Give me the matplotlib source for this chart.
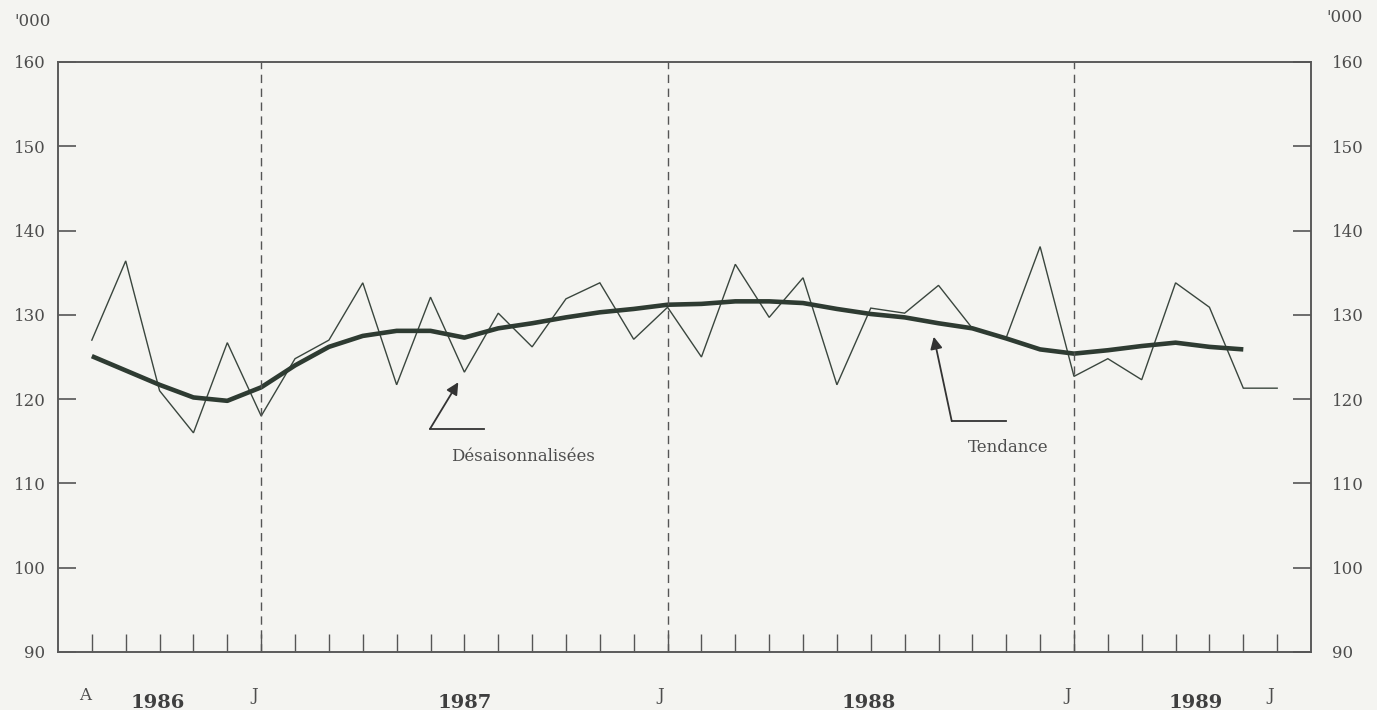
import numpy as np
import matplotlib
matplotlib.use("Agg")
from matplotlib import pyplot as plt
from matplotlib import transforms

# monthly series, Aug 1986 .. Jul 1989 ('000)
desaisonnalisees = [127.0, 136.4, 121.0, 116.0, 126.7, 118.0, 124.8, 127.0, 133.8,
                    121.7, 132.1, 123.2, 130.2, 126.2, 131.9, 133.8, 127.1, 130.9,
                    125.0, 136.0, 129.7, 134.4, 121.7, 130.8, 130.2, 133.5, 128.4,
                    127.3, 138.1, 122.7, 124.8, 122.3, 133.8, 130.9, 121.3, 121.3]
tendance = [125.1, 123.4, 121.7, 120.2, 119.8, 121.4, 124.0, 126.2, 127.5, 128.1,
            128.1, 127.3, 128.4, 129.0, 129.7, 130.3, 130.7, 131.2, 131.3, 131.6,
            131.6, 131.4, 130.7, 130.1, 129.7, 129.0, 128.4, 127.2, 125.9, 125.4,
            125.8, 126.3, 126.7, 126.2, 125.9]
month_letters = ["A", "J", "J", "J", "J"]
month_letter_idx = [0, 5, 17, 29, 35]
years = ["1986", "1987", "1988", "1989"]
y_ticks = [90, 100, 110, 120, 130, 140, 150, 160]

plt.rcParams["font.family"] = ["DejaVu Serif"]
txt_col = "#4d4d4d"
line_col = "#3a463e"
bg = "#f4f4f1"

fig = plt.figure(figsize=(13.77, 7.10), dpi=100, facecolor=bg)
ax = fig.add_axes([0.0421, 0.0817, 0.9100, 0.8310], facecolor=bg)

x = np.arange(len(desaisonnalisees))
ax.plot(x, desaisonnalisees, color=line_col, lw=1.0, solid_joinstyle="miter")
ax.plot(np.arange(len(tendance)), tendance, color="#2e3b32", lw=3.3,
        solid_joinstyle="round", solid_capstyle="butt")

# january separators
for i in [5, 17, 29]:
    ax.axvline(i, color="#555555", lw=1.0, ls=(0, (6, 4)))

ax.set_xlim(-1, 36)
ax.set_ylim(90, 160)
ax.set_xticks(x)
ax.set_xticklabels([])
ax.set_yticks(y_ticks)
ax.tick_params(axis="x", direction="in", length=13, width=1.0, color="#555555")
ax.tick_params(axis="y", direction="in", length=13, width=1.2, color="#555555",
               pad=9, labelsize=12, labelcolor=txt_col)
for sp in ax.spines.values():
    sp.set_color("#5a5a5a")
    sp.set_linewidth(1.4)

# right-hand scale
ax2 = ax.twinx()
ax2.set_ylim(90, 160)
ax2.set_yticks(y_ticks)
ax2.tick_params(axis="y", direction="in", length=13, width=1.2, color="#555555",
                pad=15, labelsize=12, labelcolor=txt_col)
for sp in ax2.spines.values():
    sp.set_visible(False)

# bottom labels
trans = transforms.blended_transform_factory(ax.transData, fig.transFigure)
for lab, i in zip(month_letters, month_letter_idx):
    ax.text(i - 0.2, 1 - 695 / 710, lab, transform=trans, ha="center", va="center",
            fontsize=12, color=txt_col)
for lab, xp in zip(years, [1.95, 11.0, 22.95, 32.6]):
    ax.text(xp, 1 - 703 / 710, lab, transform=trans, ha="center", va="center",
            fontsize=14, fontweight="bold", color="#3f3f3f")

fig.text(33 / 1377, 1 - 22 / 710, "'000", ha="center", va="center",
         fontsize=12, color=txt_col)
fig.text(1345 / 1377, 1 - 17 / 710, "'000", ha="center", va="center",
         fontsize=12, color=txt_col)

# annotations
arrow = dict(arrowstyle="-|>", color="#333333", lw=1.3, mutation_scale=18,
             shrinkA=0, shrinkB=0)
ax.plot([9.99, 11.59], [116.5, 116.5], color="#333333", lw=1.3)
ax.annotate("", xy=(10.82, 122.0), xytext=(9.99, 116.5), arrowprops=arrow)
ax.text(12.74, 113.2, "Désaisonnalisées", ha="center", va="center",
        fontsize=12, color=txt_col)

ax.plot([25.39, 26.99], [117.4, 117.4], color="#333333", lw=1.3)
ax.annotate("", xy=(24.86, 127.4), xytext=(25.39, 117.4), arrowprops=arrow)
ax.text(27.05, 114.3, "Tendance", ha="center", va="center",
        fontsize=12, color=txt_col)

fig.savefig("out.png", dpi=100, facecolor=bg)
